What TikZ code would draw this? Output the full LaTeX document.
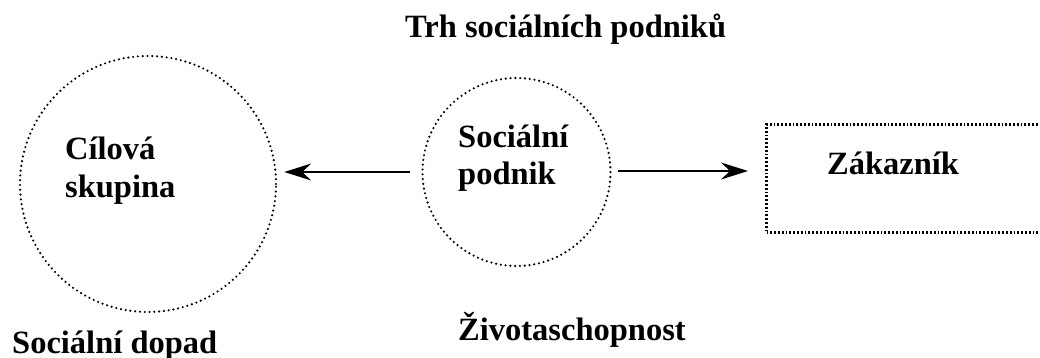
\documentclass[tikz,border=0pt]{standalone}
\usepackage{fontspec}
\setmainfont{Liberation Serif}
\usetikzlibrary{arrows.meta}
\tikzset{
  dotcircle/.style={circle, draw, line width=2.4pt, line cap=round, dash pattern=on 0pt off 4.8pt, inner sep=0pt},
  dotbox/.style={rectangle, draw, line width=3pt, dash pattern=on 1.8pt off 2pt, inner sep=0pt},
  lbl/.style={font=\bfseries\fontsize{32.5}{37}\selectfont, inner sep=0pt, anchor=base west, align=left},
  arr/.style={line width=1.6pt, -{Stealth[length=27pt,width=17pt,inset=9pt]}},
}
\begin{document}
\begin{tikzpicture}[x=1pt,y=-1pt]
\useasboundingbox (0,0) rectangle (1040,358);
\clip (0,0) rectangle (1040,358);
\node[dotcircle, minimum size=256pt] (cil) at (148,184) {};
\node[dotcircle, minimum size=188pt] (sp) at (516.5,172) {};
\node[dotbox, minimum width=300pt, minimum height=108pt, anchor=north west] (zak) at (765,123) {};
\node[lbl] (title) at (405,38) {Trh sociálních podniků};
\node[lbl] (tcil) at (65,160) {Cílová};
\node[lbl] (tcil2) at (65,197) {skupina};
\node[lbl] (tsp) at (458,148) {Sociální};
\node[lbl] (tsp2) at (458,185) {podnik};
\node[lbl] (tzak) at (827,175) {Zákazník};
\node[lbl] (tziv) at (458,340) {Životaschopnost};
\node[lbl] (tdop) at (12,353) {Sociální dopad};
\draw[arr, shorten <=11pt, shorten >=7pt] (sp.west) -- (sp.west -| cil.east);
\draw[arr, shorten <=6pt, shorten >=17pt] ([yshift=1pt]sp.east) -- ([yshift=1pt]sp.east -| zak.west);
\end{tikzpicture}
\end{document}
